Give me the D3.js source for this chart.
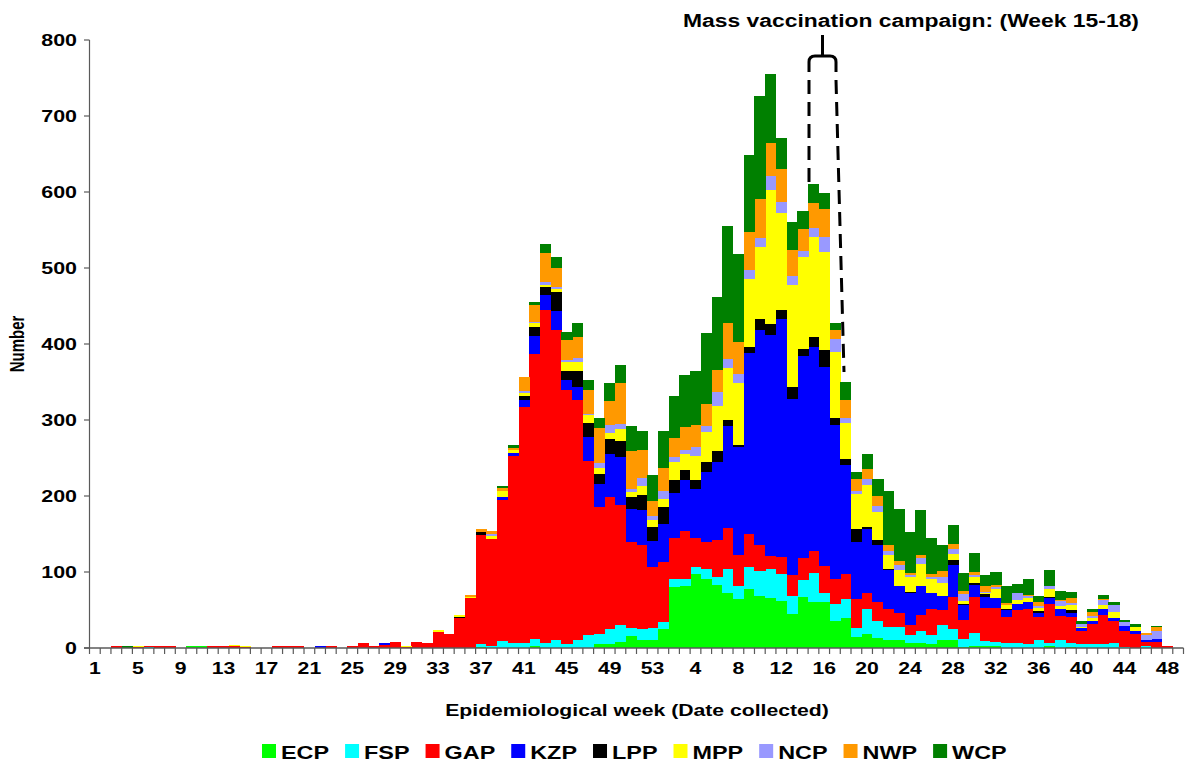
<!DOCTYPE html>
<html>
<head>
<meta charset="utf-8">
<script src="https://cdn.jsdelivr.net/npm/d3@7"></script>
<style>
  html, body { margin: 0; background: #fff; }
  svg { display: block; font-family: "Liberation Sans", Arial, sans-serif; font-weight: bold; }
</style>
</head>
<body>
<svg id="chart" width="1187" height="767"></svg>
<script>
// epidemiological weeks: 2009 wk 1-53, then 2010 wk 1-49
const weeks = d3.range(1, 54).concat(d3.range(1, 50));
const yTicks = [0, 100, 200, 300, 400, 500, 600, 700, 800];
const keys = ["ECP", "FSP", "GAP", "KZP", "LPP", "MPP", "NCP", "NWP", "WCP"];
const colors = ["#00ff00", "#00ffff", "#ff0000", "#0000ff", "#000000", "#ffff00", "#9999ff", "#ff9900", "#008000"];

// cases per week, one array per province (index = bar)
const ECP = [0,0,0,0,0,0,0,0,0,2, 2,0,0,0,0,0,0,0,0,0, 0,0,0,0,0,0,0,0,0,0, 0,0,0,0,0,0,1,0,0,0,
  0,2,0,0,0,0,0,5,5,8, 16,10,10,25,80,82,97,91,83,73, 64,77,69,66,62,45,67,60,60,35,
  40,14,18,13,10,10,6,6,5,11, 11,1,3,3,2,0,0,0,0,3, 0,1,0,0,0,0,0,0,0,0, 0,0];
const FSP = [0,0,0,0,0,1,0,0,0,0, 0,0,0,0,0,0,0,0,0,0, 0,0,0,0,0,0,0,0,0,0, 0,0,0,0,0,0,4,2,9,6,
  6,10,7,10,5,10,17,14,20,22, 10,15,16,9,11,9,10,13,11,31, 17,30,32,38,35,23,23,39,13,23,
  24,12,33,23,18,17,11,16,12,19, 14,11,17,6,6,7,6,5,10,4, 10,5,5,5,5,7,1,0,2,0, 0,0];
const GAP = [0,0,2,0,1,1,2,2,0,0, 0,2,2,2,1,0,0,2,2,2, 0,0,2,0,3,7,3,4,8,1, 8,7,21,18,40,66,144,141,186,246,
  311,375,438,408,335,316,229,166,174,158, 113,110,81,79,54,63,38,36,48,54, 42,43,34,17,23,28,28,29,35,33,
  34,39,21,25,23,19,13,21,34,20, 42,25,47,44,44,34,44,46,31,51, 32,35,17,27,38,29,21,19,6,8, 3,0];
const KZP = [0,0,0,0,0,0,0,0,0,0, 0,0,0,0,0,0,0,0,0,0, 0,2,0,0,0,0,0,3,0,0, 0,0,0,0,0,0,0,0,4,4,
  9,24,20,25,12,17,31,31,56,63, 44,47,34,50,59,67,64,92,103,134, 142,238,283,291,313,232,266,268,262,203,
  143,74,85,75,51,35,43,38,22,18, 42,20,16,14,14,9,8,10,5,8, 9,5,4,3,8,4,7,4,2,4, 0,0];
const LPP = [0,0,0,0,0,0,0,0,0,0, 0,0,0,0,0,0,0,0,0,0, 0,0,0,0,0,0,0,0,0,0, 0,0,0,0,1,0,3,1,0,0,
  5,12,10,25,12,21,19,13,20,22, 16,19,18,23,17,13,12,13,14,8, 2,8,15,14,12,16,10,13,22,9,
  8,18,2,6,2,0,1,1,0,0, 7,1,3,4,0,1,0,0,3,1, 0,4,0,0,0,0,0,0,1,0, 0,0];
const MPP = [0,0,0,0,2,0,0,0,0,0, 0,0,0,2,2,0,0,0,0,0, 0,0,0,0,0,0,0,0,0,2, 0,0,3,0,3,1,1,4,7,4,
  5,4,3,4,12,12,10,8,8,15, 6,12,9,10,24,21,31,39,60,69, 82,89,95,176,128,133,120,132,129,87,
  47,46,56,37,19,22,19,29,18,18, 8,4,7,1,11,5,5,5,3,11, 4,7,1,4,5,8,0,4,0,0, 0,0];
const NCP = [0,0,0,0,0,0,0,0,0,0, 0,0,0,0,0,0,0,0,0,0, 0,0,0,0,0,0,0,0,0,0, 0,0,0,0,0,0,0,2,0,0,
  2,2,4,3,3,6,2,7,10,7, 4,11,6,10,6,6,12,8,18,11, 12,13,11,19,14,13,8,12,20,16,
  7,3,8,8,5,6,3,7,3,7, 6,9,3,2,3,1,9,2,3,4, 7,2,5,3,7,8,5,0,6,10, 0,0];
const NWP = [0,0,0,0,0,0,0,0,0,0, 0,0,0,0,0,0,0,0,0,0, 0,0,0,0,0,0,0,0,0,0, 0,0,0,0,0,3,3,4,4,3,
  18,22,38,25,26,27,32,45,32,54, 50,36,19,31,25,30,29,29,29,47, 42,49,52,44,43,34,29,33,36,13,
  23,17,12,13,7,6,3,4,3,8, 7,4,4,8,3,2,0,2,5,0, 1,7,0,5,2,0,0,0,3,5, 0,0];
const WCP = [0,0,0,2,0,0,0,0,0,0, 0,0,0,0,0,0,0,0,0,0, 0,0,0,0,0,0,0,0,0,0, 0,0,0,0,0,0,0,0,3,4,
  0,4,12,15,11,18,12,13,24,23, 33,25,35,49,56,68,72,94,96,128, 115,102,135,90,41,37,24,24,22,9,
  24,8,20,23,72,68,53,59,48,34, 25,24,25,14,17,23,12,21,8,20, 12,8,3,4,5,4,3,4,0,2, 0,0];

const byKey = { ECP, FSP, GAP, KZP, LPP, MPP, NCP, NWP, WCP };
const table = weeks.map((w, i) => {
  const row = { i, week: w };
  keys.forEach(k => { row[k] = byKey[k][i]; });
  return row;
});

const svg = d3.select("#chart");
const SX = 1.3;   // the source picture is stretched sideways
const axisColor = "#5a5a5a";

const x = d3.scaleBand().domain(d3.range(weeks.length)).range([89.5, 1183.5]).padding(0);
const y = d3.scaleLinear().domain([0, 800]).range([648, 40]);

function stext(g, px, py, str, size, anchor, rot) {
  return g.append("text")
    .attr("transform", `translate(${px},${py}) scale(${SX},1)` + (rot ? ` rotate(${rot})` : ""))
    .attr("text-anchor", anchor || "start")
    .attr("font-size", size)
    .attr("fill", "#000")
    .text(str);
}

// bars
const stacked = d3.stack().keys(keys)(table);
svg.append("g").attr("shape-rendering", "crispEdges")
  .selectAll("g").data(stacked).join("g")
  .attr("fill", (d, i) => colors[i])
  .selectAll("rect").data(d => d.filter(s => s[1] > s[0])).join("rect")
  .attr("x", d => x(d.data.i))
  .attr("width", x.bandwidth() + 0.4)
  .attr("y", d => y(d[1]))
  .attr("height", d => y(d[0]) - y(d[1]));

// y axis
const ax = svg.append("g");
ax.append("line").attr("x1", 89.5).attr("x2", 89.5).attr("y1", 40).attr("y2", 648)
  .attr("stroke", axisColor).attr("stroke-width", 1.2);
yTicks.forEach(t => {
  ax.append("line").attr("x1", 84).attr("x2", 89.5).attr("y1", y(t)).attr("y2", y(t))
    .attr("stroke", axisColor).attr("stroke-width", 1.2);
  stext(ax, 77, y(t) + 6, t, 16.5, "end");
});

// x axis
ax.append("line").attr("x1", 84).attr("x2", 1183.5).attr("y1", 648).attr("y2", 648)
  .attr("stroke", axisColor).attr("stroke-width", 1.6);
d3.range(weeks.length + 1).forEach(k => {
  const xx = 89.5 + k * x.step();
  ax.append("line").attr("x1", xx).attr("x2", xx).attr("y1", 648).attr("y2", 654)
    .attr("stroke", axisColor).attr("stroke-width", 1.2);
});
weeks.forEach((w, i) => {
  if (i % 4 === 0 && i < 101) stext(ax, x(i) + x.bandwidth() / 2, 674, w, 16.3, "middle");
});

stext(svg, 637, 716, "Epidemiological week (Date collected)", 16.3, "middle");
stext(svg, 24, 344, "Number", 15, "middle", -90);

// vaccination campaign bracket
const note = svg.append("g").attr("fill", "none").attr("stroke", "#000").attr("stroke-width", 3);
note.append("path").attr("d", "M822.5,35 V56 M809,72 V62 Q809,56 815,56 H830 Q836,56 836,62 V72");
note.append("path").attr("d", "M809,80 V184").attr("stroke-dasharray", "14,8");
note.append("path").attr("d", "M836,80 L844,372").attr("stroke-dasharray", "14,8");
stext(svg, 683, 27, "Mass vaccination campaign: (Week 15-18)", 17.6, "start");

// legend
const lg = svg.append("g");
let lx = 262;
keys.forEach((k, i) => {
  lg.append("rect").attr("x", lx).attr("y", 744).attr("width", 14).attr("height", 14).attr("fill", colors[i]);
  const t = stext(lg, lx + 19, 759, k, 18, "start");
  lx += 19 + t.node().getComputedTextLength() * SX + 16;
});
</script>
</body>
</html>
